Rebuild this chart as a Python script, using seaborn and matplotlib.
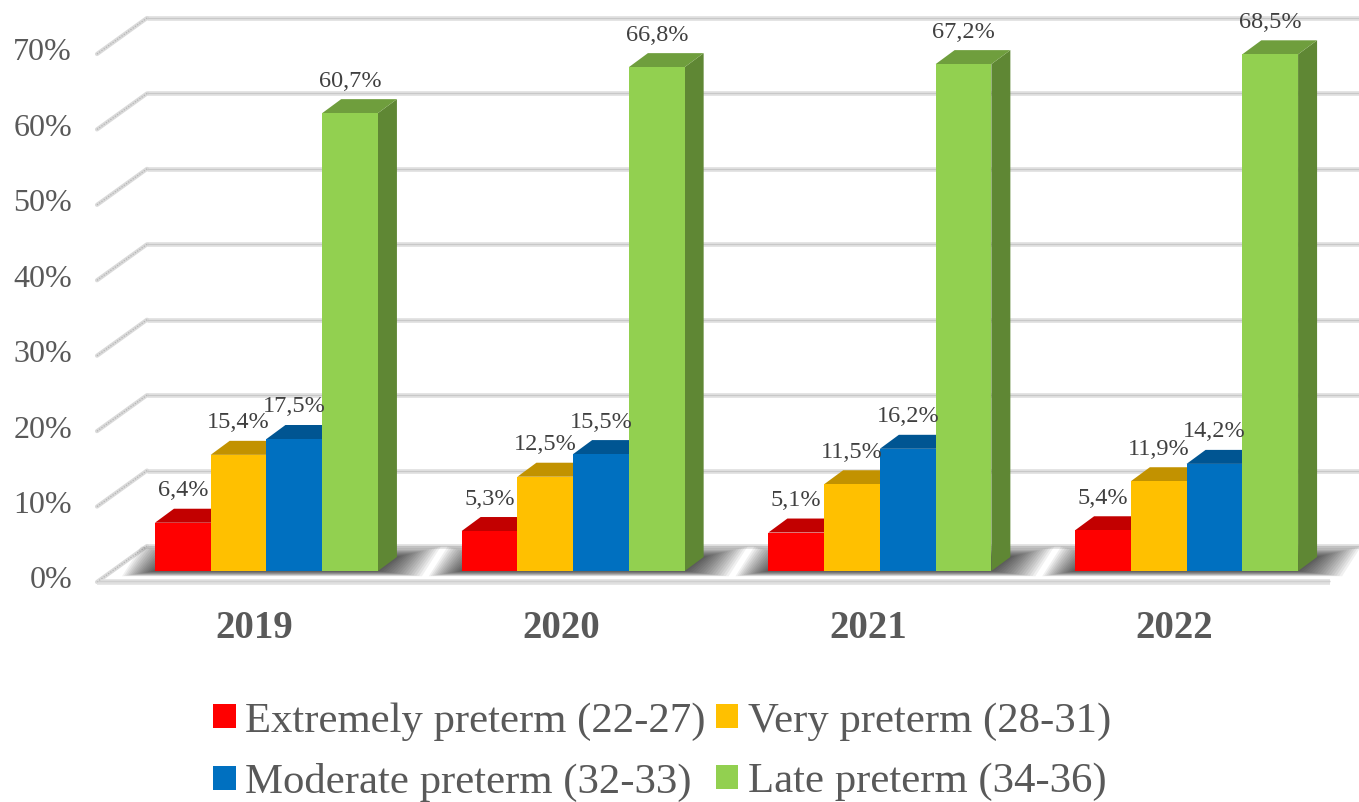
import numpy as np
import pandas as pd
import matplotlib
matplotlib.use("Agg")
import matplotlib.pyplot as plt
import seaborn as sns
from matplotlib.patches import Polygon, Patch
from matplotlib.transforms import ScaledTranslation

# ---- data -------------------------------------------------------------
years = ["2019", "2020", "2021", "2022"]
categories = [
    "Extremely preterm (22-27)",
    "Very preterm (28-31)",
    "Moderate preterm (32-33)",
    "Late preterm (34-36)",
]
extremely = [6.4, 5.3, 5.1, 5.4]
very = [15.4, 12.5, 11.5, 11.9]
moderate = [17.5, 15.5, 16.2, 14.2]
late = [60.7, 66.8, 67.2, 68.5]
y_ticks = [0, 10, 20, 30, 40, 50, 60, 70]
y_tick_labels = ["0%", "10%", "20%", "30%", "40%", "50%", "60%", "70%"]
colors = ["#FF0000", "#FFC000", "#0070C0", "#92D050"]

series = [extremely, very, moderate, late]
df = pd.DataFrame(
    [(y, c, v) for c, vals in zip(categories, series) for y, v in zip(years, vals)],
    columns=["year", "category", "value"],
)

# ---- style ------------------------------------------------------------
sns.set_theme(style="white")
plt.rcParams["font.family"] = ["Liberation Serif", "DejaVu Serif"]
TEXT = "#595959"
LABEL = "#404040"

W, H = 1359, 802
fig = plt.figure(figsize=(W / 100, H / 100), dpi=100)
fig.patch.set_facecolor("white")

# axes spans the front plane of the bars
ax_left, ax_right, ax_bottom, ax_top = 114, 1347, 571, 43
ax = fig.add_axes([ax_left / W, (H - ax_bottom) / H,
                   (ax_right - ax_left) / W, (ax_bottom - ax_top) / H])

sns.barplot(data=df, x="year", y="value", hue="category", order=years,
            hue_order=categories, palette=colors, saturation=1, width=0.727,
            linewidth=0, legend=False, ax=ax, zorder=3)

ax.set_xlim(-0.497, 3.523)
ax.set_ylim(0, 70)
for s in ax.spines.values():
    s.set_visible(False)
ax.set_xticks([])
ax.set_yticks([])
ax.set_xlabel("")
ax.set_ylabel("")
ax.patch.set_alpha(0)

# pixel -> data scale factors
p0 = ax.transData.transform((0, 0))
sx = ax.transData.transform((1, 0))[0] - p0[0]
sy = ax.transData.transform((0, 1))[1] - p0[1]


def off(px, py):
    return px / sx, py / sy


x0_lim, x1_lim = ax.get_xlim()
depth = off(19, 14)          # bar depth
front = off(-17, -11)        # front edge of floor / side wall
back = off(33, 25)           # back wall plane

# ---- walls and gridlines ---------------------------------------------
for v in y_ticks:
    xb0 = x0_lim + back[0]
    yb = v + back[1]
    ax.plot([xb0, x1_lim + back[0] + 0.3], [yb, yb], color="#e4e4e4",
            lw=3.6, solid_capstyle="butt", zorder=0.5, clip_on=False)
    ax.plot([xb0, x1_lim + back[0] + 0.3], [yb, yb], color="#c8c8c8",
            lw=1.0, solid_capstyle="butt", zorder=0.6, clip_on=False)
    xf = x0_lim + front[0]
    yf = v + front[1]
    ax.plot([xf, xb0], [yf, yb], color="#dadada", lw=3.0,
            solid_capstyle="round", zorder=0.5, clip_on=False)
    ax.plot([xf, xb0], [yf, yb], color="#b5b5b5", lw=0.9,
            linestyle=(0, (1, 1.2)), zorder=0.6, clip_on=False)

# floor front edge
ax.plot([x0_lim + front[0], x1_lim + front[0]], [front[1], front[1]],
        color="#e0e0e0", lw=4.0, solid_capstyle="butt", zorder=0.5, clip_on=False)
ax.plot([x0_lim + front[0], x1_lim + front[0]], [front[1] + off(0, 1)[1]] * 2,
        color="#cfcfcf", lw=1.0, solid_capstyle="butt", zorder=0.6, clip_on=False)

# ---- 3D faces and shadows ---------------------------------------------
bars = sorted(ax.patches, key=lambda p: p.get_x())


def shade(c, k):
    r, g, b, _ = matplotlib.colors.to_rgba(c)
    return (r * k, g * k, b * k)


# soft shadows under each year group
for gi in range(len(years)):
    grp = bars[gi * len(categories):(gi + 1) * len(categories)]
    L = grp[0].get_x()
    R = grp[-1].get_x() + grp[-1].get_width()
    for e in np.linspace(44, 2, 16):
        ex, ev = off(e, e * 0.12)
        poly = [(L - ex * 0.75, -ev), (R + ex, -ev),
                (R + depth[0] + ex, depth[1] + ev * 2),
                (L + depth[0] - ex * 0.75, depth[1] + ev * 2)]
        ax.add_patch(Polygon(poly, closed=True, facecolor="black",
                             edgecolor="none", alpha=0.06, zorder=1,
                             clip_on=False))

for p in bars:
    x, w, h = p.get_x(), p.get_width(), p.get_height()
    fc = p.get_facecolor()
    top = [(x, h), (x + w, h), (x + w + depth[0], h + depth[1]),
           (x + depth[0], h + depth[1])]
    side = [(x + w, 0), (x + w + depth[0], depth[1]),
            (x + w + depth[0], h + depth[1]), (x + w, h)]
    ax.add_patch(Polygon(side, closed=True, facecolor=shade(fc, 0.65),
                         edgecolor="none", zorder=2.5, clip_on=False))
    ax.add_patch(Polygon(top, closed=True, facecolor=shade(fc, 0.76),
                         edgecolor="none", zorder=2.5, clip_on=False))

# ---- data labels ------------------------------------------------------
lab_tr = ax.transData + ScaledTranslation(0, 0.32, fig.dpi_scale_trans)
for p in bars:
    h = p.get_height()
    txt = f"{h:.1f}%".replace(".", ",")
    ax.text(p.get_x() + p.get_width() / 2, h, txt, transform=lab_tr,
            ha="center", va="center", fontsize=17.5, color=LABEL, zorder=5)

# ---- axis labels ------------------------------------------------------
ytr = ax.transData + ScaledTranslation(-0.42, -0.10, fig.dpi_scale_trans)
for v, t in zip(y_ticks, y_tick_labels):
    ax.text(x0_lim, v, t, transform=ytr, ha="right", va="center",
            fontsize=23, color=TEXT, clip_on=False)

xtr = ax.transData + ScaledTranslation(-0.12, -0.57, fig.dpi_scale_trans)
for i, yr in enumerate(years):
    ax.text(i, 0, yr, transform=xtr, ha="center", va="center",
            fontsize=28, fontweight="bold", color=TEXT, clip_on=False)

# ---- legend -----------------------------------------------------------
handles = [Patch(facecolor=c, edgecolor="none") for c in colors]
order = [0, 2, 1, 3]
leg = fig.legend([handles[i] for i in order], [categories[i] for i in order],
                 ncol=2, loc="center", bbox_to_anchor=(662 / W, 1 - 752 / H),
                 frameon=False, fontsize=30.8, handlelength=0.53,
                 handleheight=0.48, handletextpad=0.22, columnspacing=0.24,
                 labelspacing=0.52, borderpad=0)
for t in leg.get_texts():
    t.set_color(TEXT)

fig.savefig("out.png", dpi=100, facecolor="white")
